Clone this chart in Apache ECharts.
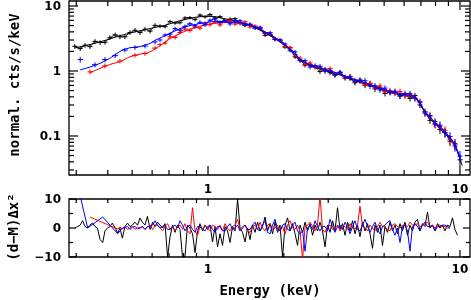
<!DOCTYPE html>
<html><head><meta charset="utf-8">
<script src="https://cdn.jsdelivr.net/npm/echarts@6/dist/echarts.min.js"></script>
<style>html,body{margin:0;padding:0;background:#fff}#c{width:471px;height:300px}</style>
</head><body><div id="c"></div>
<script>
// ---------- data ----------
// top panel: data points [energy keV, counts/s/keV, relative error]
const dataBlack = [[0.296,2.40,.08],[0.311,2.21,.08],[0.325,2.49,.08],[0.340,2.37,.08],[0.356,2.86,.08],[0.373,2.74,.08],[0.390,2.77,.08],[0.408,3.26,.08],[0.428,3.60,.08],[0.447,3.36,.08],[0.468,3.36,.08],[0.490,3.91,.08],[0.513,4.24,.08],[0.537,3.90,.08],[0.562,4.39,.08],[0.589,4.10,.08],[0.616,5.03,.08],[0.645,4.90,.07],[0.675,4.80,.06],[0.707,5.78,.06],[0.740,5.48,.06],[0.774,5.53,.06],[0.810,6.56,.06],[0.848,6.63,.06],[0.888,6.16,.06],[0.929,7.26,.06],[0.973,6.81,.06],[1.018,7.40,.06],[1.066,6.51,.06],[1.116,6.86,.06],[1.168,5.91,.06],[1.223,6.28,.06],[1.280,6.37,.06],[1.340,5.38,.06],[1.403,5.03,.06],[1.468,5.25,.06],[1.537,4.60,.06],[1.609,4.55,.06],[1.684,3.54,.06],[1.763,3.64,.06],[1.845,3.06,.06],[1.931,2.97,.06],[2.022,2.33,.06],[2.116,2.27,.06],[2.215,1.65,.07],[2.319,1.48,.07],[2.427,1.23,.08],[2.541,1.26,.08],[2.659,1.16,.08],[2.783,0.98,.08],[2.914,1.07,.08],[3.050,0.94,.08],[3.192,0.86,.08],[3.341,0.95,.08],[3.498,0.78,.08],[3.661,0.765,.08],[3.832,0.66,.09],[4.011,0.70,.09],[4.199,0.61,.09],[4.395,0.64,.1],[4.600,0.53,.1],[4.815,0.546,.1],[5.040,0.45,.1],[5.276,0.478,.1],[5.522,0.47,.1],[5.780,0.413,.1],[6.050,0.428,.1],[6.333,0.377,.1],[6.629,0.42,.1],[6.939,0.30,.11],[7.263,0.236,.12],[7.603,0.174,.12],[7.958,0.166,.13],[8.330,0.125,.14],[8.719,0.113,.15],[9.127,0.083,.16],[9.553,0.076,.18],[10.0,0.043,.2]];
const dataRed = [[0.340,0.97,.09],[0.390,1.2,.09],[0.447,1.42,.08],[0.513,1.75,.08],[0.562,1.86,.08],[0.616,2.25,.08],[0.645,2.55,.07],[0.675,2.69,.07],[0.707,3.37,.07],[0.740,3.29,.07],[0.774,3.91,.07],[0.810,4.43,.07],[0.848,4.18,.07],[0.888,4.74,.07],[0.929,4.56,.07],[0.973,5.41,.07],[1.018,5.14,.07],[1.066,5.72,.07],[1.116,5.11,.07],[1.168,5.82,.07],[1.223,5.99,.07],[1.280,5.27,.07],[1.340,5.39,.06],[1.403,5.72,.06],[1.468,4.74,.06],[1.537,4.94,.06],[1.609,4.62,.06],[1.684,3.76,.06],[1.763,3.91,.06],[1.845,3.15,.06],[1.931,2.96,.06],[2.022,2.37,.06],[2.116,2.31,.06],[2.215,1.77,.07],[2.319,1.58,.08],[2.427,1.26,.08],[2.541,1.33,.08],[2.659,1.15,.08],[2.783,1.15,.08],[2.914,0.99,.08],[3.050,1.09,.08],[3.192,0.90,.08],[3.341,0.93,.08],[3.498,0.78,.08],[3.661,0.83,.09],[3.832,0.71,.09],[4.011,0.714,.1],[4.199,0.60,.1],[4.395,0.646,.1],[4.600,0.563,.1],[4.815,0.589,.1],[5.040,0.484,.1],[5.276,0.50,.1],[5.522,0.456,.1],[5.780,0.486,.1],[6.050,0.413,.1],[6.333,0.433,.1],[6.629,0.377,.1],[6.939,0.339,.11],[7.263,0.226,.12],[7.603,0.203,.13],[7.958,0.152,.14],[8.330,0.139,.15],[8.719,0.122,.16],[9.127,0.089,.17],[9.553,0.073,.18]];
const dataBlue = [[0.311,1.5,.1],[0.356,1.25,.09],[0.390,1.5,.09],[0.428,1.72,.08],[0.468,2.1,.08],[0.513,2.3,.08],[0.562,2.42,.08],[0.616,2.8,.08],[0.645,3.0,.07],[0.675,3.57,.07],[0.707,3.69,.07],[0.740,4.48,.07],[0.774,4.23,.07],[0.810,4.85,.07],[0.848,5.35,.07],[0.888,4.94,.07],[0.929,5.62,.07],[0.973,5.11,.07],[1.018,6.04,.07],[1.066,6.33,.07],[1.116,5.57,.07],[1.168,5.92,.07],[1.223,5.30,.07],[1.280,5.88,.07],[1.340,5.94,.06],[1.403,5.08,.06],[1.468,5.20,.06],[1.537,4.56,.06],[1.609,4.71,.06],[1.684,3.88,.06],[1.763,3.84,.06],[1.845,3.05,.06],[1.931,3.02,.06],[2.022,2.60,.06],[2.116,2.05,.06],[2.215,1.97,.07],[2.319,1.44,.08],[2.427,1.44,.08],[2.541,1.15,.08],[2.659,1.21,.08],[2.783,1.18,.08],[2.914,1.0,.08],[3.050,1.02,.08],[3.192,0.874,.08],[3.341,0.963,.08],[3.498,0.815,.08],[3.661,0.819,.09],[3.832,0.696,.09],[4.011,0.728,.1],[4.199,0.707,.1],[4.395,0.584,.1],[4.600,0.592,.1],[4.815,0.512,.1],[5.040,0.546,.1],[5.276,0.466,.1],[5.522,0.488,.1],[5.780,0.414,.1],[6.050,0.452,.1],[6.333,0.449,.1],[6.629,0.381,.1],[6.939,0.33,.11],[7.263,0.226,.12],[7.603,0.205,.13],[7.958,0.154,.14],[8.330,0.146,.15],[8.719,0.112,.16],[9.127,0.098,.17],[9.553,0.07,.18],[10.0,0.049,.2]];

// top panel: model curves [energy keV, counts/s/keV]
const modelBlack = [[0.296,2.26],[0.34,2.55],[0.39,2.95],[0.447,3.5],[0.513,4.0],[0.589,4.5],[0.675,5.05],[0.774,5.95],[0.888,6.7],[0.973,6.95],[1.066,6.85],[1.168,6.35],[1.28,5.9],[1.403,5.35],[1.537,4.65],[1.684,3.85],[1.845,3.15],[2.022,2.45],[2.215,1.75],[2.319,1.45],[2.541,1.2],[2.783,1.07],[3.05,0.96],[3.341,0.87],[3.661,0.75],[4.011,0.67],[4.395,0.59],[4.815,0.53],[5.276,0.46],[5.78,0.435],[6.333,0.405],[6.629,0.39],[6.939,0.31],[7.263,0.225],[7.603,0.185],[8.33,0.13],[9.127,0.09],[9.553,0.072],[10.0,0.045],[10.2,0.035]];
const modelRed = [[0.34,0.94],[0.373,1.1],[0.408,1.26],[0.447,1.39],[0.490,1.66],[0.537,1.82],[0.575,1.89],[0.60,2.05],[0.64,2.4],[0.707,3.15],[0.774,3.8],[0.848,4.4],[0.929,4.9],[1.018,5.3],[1.116,5.55],[1.223,5.6],[1.340,5.5],[1.403,5.4],[1.537,4.8],[1.684,4.0],[1.845,3.28],[2.022,2.55],[2.215,1.82],[2.319,1.5],[2.541,1.24],[2.783,1.11],[3.05,1.0],[3.341,0.9],[3.661,0.78],[4.011,0.70],[4.395,0.615],[4.815,0.55],[5.276,0.48],[5.78,0.45],[6.333,0.42],[6.629,0.405],[6.939,0.32],[7.263,0.235],[7.603,0.193],[8.33,0.135],[9.127,0.094],[9.553,0.075]];
const modelBlue = [[0.311,1.04],[0.340,1.15],[0.373,1.31],[0.408,1.57],[0.456,2.1],[0.490,2.28],[0.537,2.37],[0.589,2.65],[0.62,3.0],[0.707,3.8],[0.774,4.5],[0.848,5.0],[0.929,5.4],[1.018,5.7],[1.116,5.8],[1.223,5.7],[1.340,5.5],[1.403,5.4],[1.537,4.8],[1.684,4.0],[1.845,3.28],[2.022,2.55],[2.215,1.82],[2.319,1.5],[2.541,1.24],[2.783,1.11],[3.05,1.0],[3.341,0.9],[3.661,0.78],[4.011,0.70],[4.395,0.615],[4.815,0.55],[5.276,0.48],[5.78,0.45],[6.333,0.42],[6.629,0.405],[6.939,0.32],[7.263,0.235],[7.603,0.193],[8.33,0.135],[9.127,0.094],[9.553,0.075],[10.0,0.047]];

// bottom panel: residual energies and (d-M)/err per series
const resE = [0.296,0.303,0.311,0.318,0.325,0.333,0.340,0.348,0.356,0.364,0.373,0.382,0.390,0.399,0.408,0.417,0.428,0.438,0.447,0.457,0.468,0.479,0.490,0.501,0.513,0.525,0.537,0.549,0.562,0.575,0.589,0.603,0.616,0.630,0.645,0.660,0.675,0.691,0.707,0.723,0.740,0.757,0.774,0.792,0.810,0.829,0.848,0.868,0.888,0.909,0.929,0.951,0.973,0.996,1.018,1.042,1.066,1.091,1.116,1.142,1.168,1.195,1.223,1.251,1.280,1.310,1.340,1.371,1.403,1.435,1.468,1.502,1.537,1.573,1.609,1.646,1.684,1.723,1.763,1.804,1.845,1.888,1.931,1.976,2.022,2.069,2.116,2.165,2.215,2.266,2.319,2.373,2.427,2.483,2.541,2.600,2.659,2.720,2.783,2.847,2.914,2.981,3.050,3.121,3.192,3.266,3.341,3.418,3.498,3.579,3.661,3.746,3.832,3.921,4.011,4.104,4.199,4.296,4.395,4.497,4.600,4.706,4.815,4.926,5.040,5.156,5.276,5.398,5.522,5.650,5.780,5.914,6.050,6.190,6.333,6.479,6.629,6.782,6.939,7.099,7.263,7.431,7.603,7.779,7.958,8.142,8.330,8.522,8.719,8.920,9.127,9.338,9.553,9.774,10.0];
const resBlack = [0,0.5,1,2.5,0.5,0,1,1.7,0.5,0,
 -4,-5,-1,0,0.5,1.7,0,-1.7,0,-3.5,
 0.5,1.7,0.5,1,2,1,3.4,2,1,4,
 -0.5,2,0.5,2,1,0,1.5,-10,-3,1,
 -1.5,1,-0.5,-10,-10,1,0,-2,-8.5,-1,
 1.5,-1,1,-0.5,1,-4.8,0.5,-6.5,-2,-6,
 0.5,-1,-5,0.5,-1,10,0,-1.5,-4.8,0,
 -4,1,-1.5,2,-1,0.5,3.8,-1,1.5,-2,
 2,-1.5,1,-10,1,3.5,-1,1.5,-2,-6,
 1,-1.5,2,-1,1.5,-2.5,1,-1,2,-1,
 -6.5,1,-1.5,2.5,-1,7,-0.5,1.5,-2.5,2,
 -1,2.5,-2,1,-3,2,-1,1.5,-2,-7,
 1,-1.5,1,-6,0.5,-1.5,2,-1,1,-2,
 1.5,-1,2,-2.5,1,-1,2,3,-1,1.5,
 0.5,5.5,0,1,-1,1.5,0,1,-1,1,
 0.5,3.5,-0.5,-2.5,null];
const resRed = [null,null,null,null,null,null,3.8,null,null,null,
 null,null,null,null,null,null,0,-0.3,0.3,-0.3,
 0.3,-0.5,0,0.5,-0.5,0.3,0,0.5,-0.5,0.3,
 1,-0.5,0.8,1,0,-1,0.5,1.5,-0.5,0.5,
 -1,0.5,1,-0.5,1.5,-1,-2,7,-1,-2.5,
 0.5,-0.5,1,0,-1,1,0.5,-0.5,1,-1,
 1.5,0,-1,0.5,1,3,-0.5,0.5,1,-1,
 -1.5,0.5,1,-0.5,2,0,-1,1,1.5,-0.5,
 0,1,-1,0.5,-2,1,2.5,0,-0.5,1,
 -1,-11,0.5,1,2,0.5,-1,1,11,-0.5,
 -1.5,0.5,1,-0.5,0,1,-1,0.5,0.5,-0.5,
 1.5,0,-0.5,1,7.5,0.5,0,-1,1,0,
 -1,0.5,2,0.5,0.5,-0.5,-1,1,1.5,0.5,
 0,1,1,0.5,2,1,1,1.5,0.5,1,
 1.5,2,0.5,1,0,1,1,0.5,0.5,0,
 0,null,null,null,null];
const resBlue = [null,null,11,null,null,0,null,null,null,null,
 null,3.8,null,null,null,null,null,-2,null,0,
 null,0.5,-0.5,0.3,0.5,-0.3,0,0.5,-0.5,0.5,
 0.5,1,2.5,1,0,0.5,1,-0.5,-0.5,0.5,
 1,0,2.5,1,-1,0.5,1,-0.5,-1.5,0.5,
 0.5,-0.5,-1,0.5,1,-0.5,-1.5,0.5,0.5,-1,
 -1,0.5,1.5,-0.5,0,1,-1,0,1,-0.5,
 -0.5,1,2,-0.5,-1,1,2.5,-1.5,-2,1,
 3,-0.5,-1,1,1.5,-0.5,-1,1,2,-1,
 -2,-1,-8,0,1,-0.5,2.5,0.5,-1,0.5,
 0.5,-1,3,0.5,-1.5,0.5,1,-0.5,2,0.5,
 -2,0.5,2.5,-0.5,-1,1,3,0.5,-1.5,0.5,
 2,-0.5,-2,0.5,1,2,2.5,-0.5,-2.5,0,
 -5,0.5,1,-1,-8,0.5,1.5,0.5,-1,1,
 2,0.5,0.5,1,-1,0.5,0.5,1,1,0.5,
 0,null,null,null,null];

// axis ticks and labels
const xTickMajor = [1, 10];
const xTickMinor = [0.3,0.4,0.5,0.6,0.7,0.8,0.9,2,3,4,5,6,7,8,9];
const xTickLabels = ['1', '10'];
const yTopMajor = [0.1, 1, 10];
const yTopMinor = [0.03,0.04,0.05,0.06,0.07,0.08,0.09,0.2,0.3,0.4,0.5,0.6,0.7,0.8,0.9,2,3,4,5,6,7,8,9];
const yTopLabels = ['0.1', '1', '10'];
const yResMajor = [-10, 0, 10];
const yResMinor = [-5, 5];
const yResLabels = ['\u221210', '0', '10'];

// ---------- chart ----------
const LABEL_FONT = 'bold 12px "DejaVu Sans"';
const TITLE_FONT = 'bold 14px "DejaVu Sans Mono"';
const zip = (xs, ys) => xs.map((x, i) => [x, ys[i]]);

function crossSeries(data, color, z) {
  return {
    type: 'custom', xAxisIndex: 0, yAxisIndex: 0, data: data, clip: true, z: z, silent: true,
    renderItem: function (params, api) {
      const i = params.dataIndex;
      const E = api.value(0), F = api.value(1), r = api.value(2);
      const p = api.coord([E, F]);
      const pl = api.coord([E, F * (1 - r)]), ph = api.coord([E, F * (1 + r)]);
      let dl = 2.5, dr = 2.5;
      if (data[i - 1]) dl = Math.min(3, (p[0] - api.coord([data[i - 1][0], F])[0]) / 2);
      if (data[i + 1]) dr = Math.min(3, (api.coord([data[i + 1][0], F])[0] - p[0]) / 2);
      return { type: 'group', children: [
        { type: 'line', shape: { x1: p[0], y1: pl[1], x2: p[0], y2: ph[1] }, style: { stroke: color, lineWidth: 1 } },
        { type: 'line', shape: { x1: p[0] - dl, y1: p[1], x2: p[0] + dr, y2: p[1] }, style: { stroke: color, lineWidth: 1 } }
      ]};
    }
  };
}
function lineSeries(data, color, gi, z, w) {
  return { type: 'line', xAxisIndex: gi, yAxisIndex: gi, data: data, showSymbol: false, symbol: 'none',
    connectNulls: true, clip: true, z: z, silent: true, lineStyle: { color: color, width: w || 1 }, itemStyle: { color: color } };
}
// dense part of each data set joined as a fine trace (the closely packed bins)
const denseTrace = (d) => d.filter(p => p[0] >= 0.66 || d === dataBlack).map(p => [p[0], p[1]]);
function tickData(major, minor, other, isX) {
  const out = [];
  major.forEach((v, i) => out.push(isX ? [v, other, 1, i] : [other, v, 1, i]));
  minor.forEach(v => out.push(isX ? [v, other, 0, -1] : [other, v, 0, -1]));
  return out;
}
function xTickSeries(gi, yRef, lMaj, lMin, labels, labOff) {
  return {
    type: 'custom', xAxisIndex: gi, yAxisIndex: gi, clip: false, z: 20, silent: true,
    data: tickData(xTickMajor, xTickMinor, yRef, true),
    renderItem: function (params, api) {
      const cs = params.coordSys;
      const v = api.value(0), maj = api.value(2), li = api.value(3);
      const x = api.coord([v, yRef])[0];
      const len = maj ? lMaj : lMin;
      const b = cs.y + cs.height, t = cs.y;
      const ch = [
        { type: 'line', shape: { x1: x, y1: b, x2: x, y2: b - len }, style: { stroke: '#000', lineWidth: 1.2 } },
        { type: 'line', shape: { x1: x, y1: t, x2: x, y2: t + len }, style: { stroke: '#000', lineWidth: 1.2 } }
      ];
      if (maj) ch.push({ type: 'text', style: { text: labels[li], x: x, y: b + labOff, fill: '#000', font: LABEL_FONT, align: 'center', verticalAlign: 'middle' } });
      return { type: 'group', children: ch };
    }
  };
}
function yTickSeries(gi, major, minor, labels, lMaj, lMin) {
  return {
    type: 'custom', xAxisIndex: gi, yAxisIndex: gi, clip: false, z: 20, silent: true,
    data: tickData(major, minor, 1, false),
    renderItem: function (params, api) {
      const cs = params.coordSys;
      const v = api.value(1), maj = api.value(2), li = api.value(3);
      const y = api.coord([1, v])[1];
      const len = maj ? lMaj : lMin;
      const l = cs.x, r = cs.x + cs.width;
      const ch = [
        { type: 'line', shape: { x1: l, y1: y, x2: l + len, y2: y }, style: { stroke: '#000', lineWidth: 1.2 } },
        { type: 'line', shape: { x1: r, y1: y, x2: r - len, y2: y }, style: { stroke: '#000', lineWidth: 1.2 } }
      ];
      if (maj) ch.push({ type: 'text', style: { text: labels[li], x: l - 8, y: y + 1, fill: '#000', font: LABEL_FONT, align: 'right', verticalAlign: 'middle' } });
      return { type: 'group', children: ch };
    }
  };
}

const hidden = { axisLine: { show: false }, axisTick: { show: false }, axisLabel: { show: false }, splitLine: { show: false } };
const chart = echarts.init(document.getElementById('c'), null, { renderer: 'canvas' });
chart.setOption({
  animation: false,
  backgroundColor: '#fff',
  grid: [
    { left: 69, top: 1, width: 401, height: 174, show: true, borderColor: '#000', borderWidth: 1.3, backgroundColor: 'transparent' },
    { left: 69, top: 199, width: 401, height: 58, show: true, borderColor: '#000', borderWidth: 1.3, backgroundColor: 'transparent' }
  ],
  xAxis: [
    Object.assign({ type: 'log', logBase: 10, gridIndex: 0, min: 0.2807, max: 10.96 }, hidden),
    Object.assign({ type: 'log', logBase: 10, gridIndex: 1, min: 0.2807, max: 10.96 }, hidden)
  ],
  yAxis: [
    Object.assign({ type: 'log', logBase: 10, gridIndex: 0, min: 0.0251, max: 11.94 }, hidden),
    Object.assign({ type: 'value', gridIndex: 1, min: -10, max: 10 }, hidden)
  ],
  graphic: [
    { type: 'text', x: 15, y: 85, rotation: Math.PI / 2, style: { text: 'normal. cts/s/keV', font: TITLE_FONT, fill: '#000', align: 'center', verticalAlign: 'middle' } },
    { type: 'text', x: 14, y: 227, rotation: Math.PI / 2, style: { text: '(d\u2212M)\u0394x\u00b2', font: TITLE_FONT, fill: '#000', align: 'center', verticalAlign: 'middle' } },
    { type: 'text', x: 270, y: 291, style: { text: 'Energy (keV)', font: TITLE_FONT, fill: '#000', align: 'center', verticalAlign: 'middle' } }
  ],
  series: [
    lineSeries(modelBlack, '#000', 0, 2),
    lineSeries(denseTrace(dataBlack), '#000', 0, 3, 0.8),
    crossSeries(dataBlack, '#000', 3),
    lineSeries(modelRed, '#ff0000', 0, 4),
    lineSeries(denseTrace(dataRed), '#ff0000', 0, 5, 0.8),
    crossSeries(dataRed, '#ff0000', 5),
    lineSeries(modelBlue, '#0000ff', 0, 6),
    lineSeries(denseTrace(dataBlue), '#0000ff', 0, 7, 0.8),
    crossSeries(dataBlue, '#0000ff', 7),
    lineSeries(zip(resE, resBlack), '#000', 1, 3),
    lineSeries(zip(resE, resRed), '#ff0000', 1, 5),
    lineSeries(zip(resE, resBlue), '#0000ff', 1, 7),
    xTickSeries(0, 1, 9, 5, xTickLabels, 15),
    xTickSeries(1, 0, 7, 4, xTickLabels, 13),
    yTickSeries(0, yTopMajor, yTopMinor, yTopLabels, 9, 5),
    yTickSeries(1, yResMajor, yResMinor, yResLabels, 7, 4)
  ]
});
</script>
</body></html>
